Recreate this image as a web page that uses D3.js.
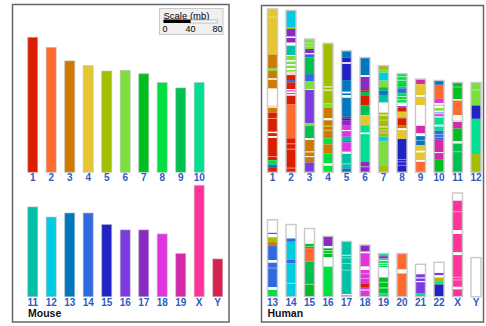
<!DOCTYPE html>
<html><head><meta charset="utf-8">
<script src="https://cdn.jsdelivr.net/npm/d3@7"></script>
<style>body{margin:0;background:#fff}svg{display:block;font-family:"Liberation Sans",Arial,sans-serif}</style>
</head><body>
<script>
// ---- data ----
const mouseChroms = ["1","2","3","4","5","6","7","8","9","10","11","12","13","14","15","16","17","18","19","X","Y"];
const mouseSizes  = [200,185,165,158,150,151,146,133,125,133,133,118,124,124,107,99,99,93,64,165,56];
const mouseColors = ["#d91f00","#ff6a2e","#cc7a00","#e6c62e","#a3bd00","#7ddf3b","#00c020","#00e040","#00c050","#00e090",
                     "#00c0a8","#00cbe3","#0078c0","#2f6ae0","#2222c4","#7b3be0","#8a2ac2","#e034e0","#d22aa8","#ff3399","#d92050"];
const humanChroms = ["1","2","3","4","5","6","7","8","9","10","11","12","13","14","15","16","17","18","19","20","21","22","X","Y"];
const humanSizes  = [242,240,197.5,191,180,170,158,146,138,136,133,133,114,107,101,89.5,82,76.6,64,64,48,51,153.6,58];
const scaleTicks  = [0,40,80];
// [human chr, start Mb, end Mb, mouse chr | "w" unassigned | "l" light band | "p" pale]
const synteny = [
["1",0,67.6,"4"],["1",11.5,12.5,"l"],["1",67.6,88.3,"3"],["1",88.3,91.9,"6"],["1",91.9,103,"3"],["1",103,105,"w"],["1",105,118,"3"],["1",118,142.7,"w"],["1",142.7,146.7,"p"],["1",146.7,153.5,"3"],["1",153.5,182,"1"],["1",161.5,163,"l"],["1",182,184,"w"],["1",184,188.6,"1"],["1",188.6,191,"w"],["1",191,224,"1"],["1",218,219.5,"l"],["1",224,230.5,"8"],["1",230.5,235.5,"13"],["1",235.5,242,"1"],
["2",0,25.8,"12"],["2",25.8,27.7,"5"],["2",27.7,39,"17"],["2",39,41,"w"],["2",41,48,"17"],["2",48,52.4,"w"],["2",52.4,66.2,"11"],["2",66.2,67.7,"w"],["2",67.7,73.6,"6"],["2",73.6,76.1,"w"],["2",76.1,80,"6"],["2",80,82,"w"],["2",82,86,"6"],["2",86,88.4,"w"],["2",88.4,91,"6"],["2",91,96,"p"],["2",96,103.3,"1"],["2",103.3,106.7,"14"],["2",106.7,116.6,"1"],["2",116.6,118.5,"w"],["2",118.5,120.6,"18"],["2",120.6,122.5,"w"],["2",122.5,124.4,"18"],["2",124.4,126.5,"w"],["2",126.5,139.5,"1"],["2",139.5,189.6,"2"],["2",189.6,240,"1"],["2",197,198.5,"l"],["2",205,206.5,"l"],["2",233,234.5,"l"],
["3",0,14.8,"6"],["3",5.5,6.7,"l"],["3",10,11.2,"l"],["3",14.8,21.2,"17"],["3",21.2,22.7,"w"],["3",22.7,27,"14"],["3",27,52,"9"],["3",52,63,"14"],["3",63,74.5,"6"],["3",74.5,75.5,"l"],["3",75.5,125,"16"],["3",125,129,"6"],["3",129,147,"9"],["3",147,149.6,"w"],["3",149.6,183,"3"],["3",166.5,168,"w"],["3",173.5,175,"w"],["3",183,197.5,"16"],
["4",0,89,"5"],["4",63.8,65.3,"w"],["4",68.5,70,"w"],["4",89,95.4,"6"],["4",95.4,111,"3"],["4",111,114,"w"],["4",114,121,"3"],["4",121,123.5,"5"],["4",123.5,140.7,"3"],["4",128,129.3,"l"],["4",140.7,149.6,"8"],["4",149.6,163,"3"],["4",163,177.8,"8"],["4",177.8,181.3,"w"],["4",181.3,191,"8"],
["5",0,10.4,"13"],["5",10.4,17.2,"15"],["5",17.2,19.3,"w"],["5",19.3,43.4,"15"],["5",43.4,60.7,"13"],["5",60.7,63.1,"w"],["5",63.1,65.6,"13"],["5",65.6,69.6,"w"],["5",69.6,97.8,"13"],["5",97.8,100.1,"1"],["5",100.1,102.7,"15"],["5",102.7,110,"17"],["5",110,117.5,"18"],["5",117.5,119,"w"],["5",119,127.4,"18"],["5",127.4,133.8,"11"],["5",133.8,135.7,"13"],["5",135.7,149.6,"18"],["5",149.6,152.6,"w"],["5",152.6,174.2,"11"],["5",166.8,168.3,"l"],["5",174.2,180,"13"],
["6",0,26.2,"13"],["6",26.2,28.7,"w"],["6",28.7,48.4,"17"],["6",48.4,51,"1"],["6",51,55.9,"9"],["6",55.9,70.7,"1"],["6",70.7,85.5,"9"],["6",85.5,100.3,"4"],["6",100.3,154.7,"10"],["6",111,113.5,"w"],["6",154.7,170,"17"],["6",161,162.5,"l"],
["7",0,5,"5"],["7",5,10.4,"6"],["7",10.4,22.2,"12"],["7",22.2,32,"6"],["7",32,37,"9"],["7",37,43.4,"13"],["7",43.4,54.8,"11"],["7",54.8,69.6,"w"],["7",69.6,105.2,"5"],["7",72.5,74,"w"],["7",80,81.3,"l"],["7",90,91.5,"w"],["7",95,96.3,"l"],["7",99,100.3,"l"],["7",105.2,111.5,"12"],["7",111.5,148.6,"6"],["7",148.6,158,"5"],
["8",0,16.7,"8"],["8",4,5,"w"],["8",9,10,"w"],["8",16.7,19,"9"],["8",19,21.6,"8"],["8",21.6,29,"14"],["8",29,43,"8"],["8",33,34,"w"],["8",38,39,"w"],["8",43,47.9,"w"],["8",47.9,49.8,"16"],["8",49.8,56.3,"1"],["8",56.3,64.6,"4"],["8",64.6,66.1,"3"],["8",66.1,76,"1"],["8",76,80.9,"3"],["8",80.9,83.4,"w"],["8",83.4,96.7,"4"],["8",96.7,146,"15"],["8",126.5,127.7,"l"],["8",130,131.2,"l"],["8",135,136.2,"l"],
["9",0,7.4,"19"],["9",7.4,23.7,"4"],["9",23.7,26.2,"w"],["9",26.2,38.5,"4"],["9",38.5,69.1,"w"],["9",69.1,80.5,"19"],["9",80.5,84.4,"w"],["9",84.4,97.8,"13"],["9",90,91.2,"l"],["9",97.8,106.2,"4"],["9",106.2,108.6,"w"],["9",108.6,120,"4"],["9",120,122.5,"w"],["9",122.5,138,"2"],
["10",0,6.4,"13"],["10",6.4,27.1,"2"],["10",27.1,33.5,"18"],["10",33.5,36,"w"],["10",36,37.5,"6"],["10",37.5,40.9,"w"],["10",40.9,44.9,"6"],["10",44.9,47.4,"w"],["10",47.4,49,"14"],["10",49,50,"w"],["10",50,51.5,"18"],["10",51.5,53.3,"14"],["10",53.3,54.8,"w"],["10",54.8,65.6,"10"],["10",65.6,68.1,"w"],["10",68.1,74.5,"10"],["10",74.5,87.9,"14"],["10",79.5,80.7,"l"],["10",83.5,84.7,"l"],["10",87.9,117.5,"19"],["10",106,107.5,"w"],["10",117.5,136,"7"],
["11",0,24.7,"7"],["11",6,7.2,"l"],["11",24.7,26.7,"w"],["11",26.7,48.4,"2"],["11",48.4,55.8,"w"],["11",55.8,58.4,"p"],["11",58.4,68.1,"19"],["11",68.1,87,"7"],["11",87,90.4,"w"],["11",90.4,133,"9"],["11",102,103.2,"l"],
["12",0,34,"6"],["12",10.3,11.5,"l"],["12",34,53.8,"15"],["12",53.8,106,"10"],["12",106,133,"5"],
["13",0,19.3,"w"],["13",19.3,21.2,"14"],["13",21.2,26,"w"],["13",26,32.6,"5"],["13",32.6,39,"3"],["13",39,59.7,"14"],["13",59.7,63.7,"w"],["13",63.7,100,"14"],["13",71,72.2,"l"],["13",100,104,"w"],["13",104,114,"8"],
["14",0,20.7,"w"],["14",20.7,25.7,"14"],["14",25.7,51.9,"12"],["14",51.9,57.8,"14"],["14",57.8,107,"12"],["14",86.5,88,"l"],
["15",0,22.7,"w"],["15",22.7,29,"7"],["15",25.7,27,"l"],["15",29,48.9,"2"],["15",48.9,82,"9"],["15",82,101,"7"],["15",82.5,83.7,"l"],
["16",0,14.4,"17"],["16",14.4,17.8,"w"],["16",17.8,31.1,"7"],["16",21,22,"w"],["16",25,26,"w"],["16",31.1,45,"w"],["16",45,89.5,"8"],
["17",0,82,"11"],["17",20,21.2,"w"],["17",24,25.2,"l"],["17",32,33.2,"l"],["17",42,43.2,"l"],["17",78,80,"w"],
["18",0,9.9,"17"],["18",9.9,12.3,"w"],["18",12.3,32,"18"],["18",32,37,"w"],["18",37,56.8,"18"],["18",42,43.2,"l"],["18",49,50.2,"l"],["18",56.8,63.4,"1"],["18",63.4,76.6,"18"],["18",66,67.5,"w"],
["19",0,4,"10"],["19",4,7.4,"17"],["19",7.4,10,"10"],["19",10,11,"w"],["19",11,14,"8"],["19",14,15,"w"],["19",15,17,"10"],["19",17,18,"w"],["19",18,20.7,"8"],["19",20.7,35.5,"w"],["19",35.5,59.3,"7"],["19",42,43.5,"l"],["19",50,52,"l"],["19",59.3,64,"10"],
["20",0,23.7,"2"],["20",23.7,29.6,"w"],["20",29.6,64,"2"],
["21",0,14.8,"w"],["21",14.8,19.7,"16"],["21",19.7,21,"w"],["21",21,24.8,"16"],["21",24.8,26.5,"w"],["21",26.5,42.5,"16"],["21",42.5,48,"10"],
["22",0,15.8,"w"],["22",15.8,19.3,"16"],["22",19.3,22.7,"w"],["22",22.7,29,"5"],["22",29,31,"10"],["22",31,33,"8"],["22",33,51,"15"],
["X",0,11.4,"w"],["X",11.4,153.6,"X"],["X",27,28.5,"l"],["X",54.8,60.7,"w"],["X",87.5,91.9,"w"],["X",124,125.5,"l"],["X",128,129.5,"l"],["X",138.8,142.7,"w"],
["Y",0,58,"w"]
];

// ---- drawing ----
const W = 486, H = 326;
const svg = d3.select("body").append("svg").attr("width", W).attr("height", H);
const mb = d3.scaleLinear().domain([0, 80]).range([0, 54]);   // Mb -> px length
const rowBase = [172.3, 296.7];
const step = 18.5, barW = 10;
const labelColor = "#2f5bbf";
const mouseColor = d3.scaleOrdinal().domain(mouseChroms).range(mouseColors);
function segFill(k){ return k === "w" ? "#ffffff" : k === "l" ? "rgba(255,255,255,0.55)" : k === "p" ? "#f7dccb" : mouseColor(k); }

// panel frames
svg.append("rect").attr("x",12.5).attr("y",4.5).attr("width",216.5).attr("height",317.5)
  .attr("fill","none").attr("stroke","#666").attr("stroke-width",1.5);
svg.append("rect").attr("x",261.5).attr("y",5.5).attr("width",222).attr("height",316.5)
  .attr("fill","none").attr("stroke","#666").attr("stroke-width",1.5);

function rows(cats, split, x0){
  return [cats.slice(0, split), cats.slice(split)].map((c, r) => ({
    cats: c, base: rowBase[r],
    x: d3.scalePoint().domain(c).range([x0, x0 + (c.length - 1) * step])
  }));
}

// mouse
const mouseRows = rows(mouseChroms, 10, 32.7);
mouseRows.forEach(row => {
  const g = svg.append("g");
  row.cats.forEach(c => {
    const i = mouseChroms.indexOf(c);
    const h = mb(mouseSizes[i]);
    g.append("rect").attr("x", row.x(c) - barW/2).attr("y", row.base - h)
      .attr("width", barW).attr("height", h).attr("fill", mouseColor(c))
      .attr("stroke", "rgba(185,185,185,0.55)").attr("stroke-width", 1);
    g.append("text").attr("x", row.x(c)).attr("y", row.base + 9)
      .attr("text-anchor","middle").attr("font-size",10).attr("font-weight","bold")
      .attr("fill", labelColor).text(c);
  });
});
svg.append("text").attr("x",28).attr("y",316.5).attr("font-size",10.5).attr("font-weight","bold").attr("fill","#111").text("Mouse");

// human
const humanRows = rows(humanChroms, 12, 272.5);
humanRows.forEach(row => {
  const g = svg.append("g");
  row.cats.forEach(c => {
    const i = humanChroms.indexOf(c);
    const h = mb(humanSizes[i]);
    const top = row.base - h, x = row.x(c) - barW/2;
    g.append("rect").attr("x", x).attr("y", top).attr("width", barW).attr("height", h).attr("fill", "#fff");
    synteny.filter(s => s[0] === c).forEach(s => {
      g.append("rect").attr("x", x).attr("y", top + mb(s[1]))
        .attr("width", barW).attr("height", mb(s[2] - s[1])).attr("fill", segFill(s[3]));
    });
    g.append("rect").attr("x", x).attr("y", top).attr("width", barW).attr("height", h)
      .attr("fill","none").attr("stroke","#c8c8c8").attr("stroke-width",1.4);
    g.append("text").attr("x", row.x(c)).attr("y", row.base + 9)
      .attr("text-anchor","middle").attr("font-size",10).attr("font-weight","bold")
      .attr("fill", labelColor).text(c);
  });
});
svg.append("text").attr("x",267.5).attr("y",316.5).attr("font-size",10.5).attr("font-weight","bold").attr("fill","#111").text("Human");

// scale legend
const sx = d3.scaleLinear().domain([0, 80]).range([163.5, 163.5 + mb(80)]);
const lg = svg.append("g");
lg.append("rect").attr("x",159.5).attr("y",8.5).attr("width",63.5).attr("height",26)
  .attr("fill","#f0f0f0").attr("stroke","#c8c8c8");
lg.append("text").attr("x",163.5).attr("y",18.5).attr("font-size",9.5).attr("fill","#000")
  .attr("text-decoration","underline").text("Scale (mb)");
lg.append("rect").attr("x",sx(40)).attr("y",20).attr("width",sx(80)-sx(40)).attr("height",3)
  .attr("fill","#fafafa").attr("stroke","#aaa").attr("stroke-width",0.7);
lg.append("rect").attr("x",sx(0)).attr("y",20).attr("width",sx(40)-sx(0)).attr("height",3).attr("fill","#000");
lg.selectAll("text.t").data(scaleTicks).join("text").attr("class","t")
  .attr("x", d => sx(d) + (d === 0 ? 1.5 : 0)).attr("y",31.5).attr("text-anchor","middle")
  .attr("font-size",9).attr("fill","#000").text(d => d);
</script>
</body></html>
